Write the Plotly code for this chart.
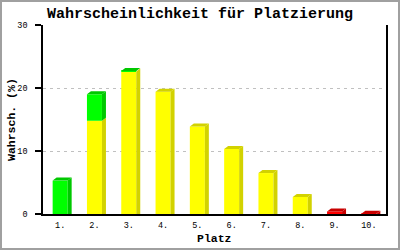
import plotly.graph_objects as go

places = ["1.", "2.", "3.", "4.", "5.", "6.", "7.", "8.", "9.", "10."]
yellow_vals = [0, 14.8, 22.6, 19.4, 13.9, 10.3, 6.5, 2.7, 0, 0]
green_vals = [5.3, 4.2, 0.1, 0, 0, 0, 0, 0, 0, 0]
red_vals = [0, 0, 0, 0, 0, 0, 0, 0, 0.4, 0.05]
y_ticks = [0, 10, 20, 30]

series = [
    ("yellow", yellow_vals, "#ffff00", "#d2d200"),
    ("green", green_vals, "#00ff00", "#00c800"),
    ("red", red_vals, "#ff0000", "#c80000"),
]

W, H = 400, 250
ML, MR, MT, MB = 43, 14, 25, 36
pw, ph = W - ML - MR, H - MT - MB
xr0, xr1 = 0.5, 10.5
yr0, yr1 = 0, 30
px_x = (xr1 - xr0) / pw  # data units per pixel
px_y = (yr1 - yr0) / ph
bw = 15 * px_x
dx = 4 * px_x
dy = 3 * px_y

xs = list(range(1, len(places) + 1))
fig = go.Figure()

# front faces
for name, vals, col, dark in series:
    bases = []
    for i in range(len(xs)):
        b = 0
        for n2, v2, _, _ in series:
            if n2 == name:
                break
            b += v2[i]
        bases.append(b)
    fig.add_trace(go.Bar(x=xs, y=vals, base=bases, width=bw, marker=dict(color=col, line=dict(width=0)),
                         name=name, showlegend=False, hoverinfo="skip"))

# side and top faces
side = {name: ([], []) for name, *_ in series}
top = {name: ([], []) for name, *_ in series}
for i, xc in enumerate(xs):
    lo = 0
    segs = []
    for name, vals, col, dark in series:
        v = vals[i]
        if v > 0:
            segs.append((name, lo, lo + v))
        lo += v
    for k, (name, a, b) in enumerate(segs):
        xl = xc - bw / 2
        xr = xc + bw / 2
        sx, sy = side[name]
        if k == 0:
            sx += [xr, xr + dx, xr + dx, xr, xr, None]
            sy += [a, a, b + dy, b, a, None]
        else:
            sx += [xr, xr + dx, xr + dx, xr, xr, None]
            sy += [a, a + dy, b + dy, b, a, None]
        if k == len(segs) - 1:
            tx, ty = top[name]
            tx += [xl, xl + dx, xr + dx, xr, xl, None]
            ty += [b, b + dy, b + dy, b, b, None]

for name, vals, col, dark in series:
    for d in (side, top):
        x_, y_ = d[name]
        if x_:
            fig.add_trace(go.Scatter(x=x_, y=y_, mode="lines", fill="toself", fillcolor=dark,
                                     line=dict(width=0, color=dark), showlegend=False, hoverinfo="skip"))

mono = "Liberation Mono"
fig.update_layout(
    width=W, height=H,
    margin=dict(l=ML, r=MR, t=MT, b=MB, pad=0, autoexpand=False),
    paper_bgcolor="white", plot_bgcolor="white",
    barmode="overlay",
    showlegend=False,
    title=dict(text="<b>Wahrscheinlichkeit für Platzierung</b>", x=0.5, xanchor="center",
               y=1 - 12.5 / H, yanchor="middle", yref="container",
               font=dict(family=mono, size=15, color="black")),
    xaxis=dict(range=[xr0, xr1], tickvals=xs, ticktext=places, showgrid=False, zeroline=False,
               automargin=False,
               showline=True, linecolor="black", linewidth=1.5, ticks="", ticklabelstandoff=2,
               tickfont=dict(family=mono, size=8.5, color="black")),
    yaxis=dict(range=[yr0, yr1], tickvals=y_ticks, showgrid=True, gridcolor="#c0c0c0", griddash="3px,4px",
               automargin=False,
               gridwidth=1, zeroline=False, showline=True, mirror=True, linecolor="black", linewidth=1.5,
               ticks="outside", ticklen=6, tickcolor="black", tickwidth=1.5, ticklabelstandoff=6,
               tickfont=dict(family=mono, size=8.5, color="black")),
)

# axis titles
fig.add_annotation(text="<b>Platz</b>", xref="paper", yref="paper", x=0.5, y=-(238 - (H - MB)) / ph,
                   xanchor="center", yanchor="middle", showarrow=False,
                   font=dict(family=mono, size=11.5, color="black"))
fig.add_annotation(text="<b>Wahrsch. (%)</b>", xref="paper", yref="paper", x=-(ML - 11.5) / pw, y=0.5,
                   xanchor="center", yanchor="middle", showarrow=False, textangle=-90,
                   font=dict(family=mono, size=11.5, color="black"))

# outer grey frame
fig.add_shape(type="rect", xref="paper", yref="paper",
              x0=(1 - ML) / pw, x1=(W - 1 - ML) / pw,
              y0=-(MB - 1) / ph, y1=1 + (MT - 1) / ph,
              line=dict(color="#a0a0a0", width=2), fillcolor="rgba(0,0,0,0)", layer="above")

fig.write_html("out.html")
